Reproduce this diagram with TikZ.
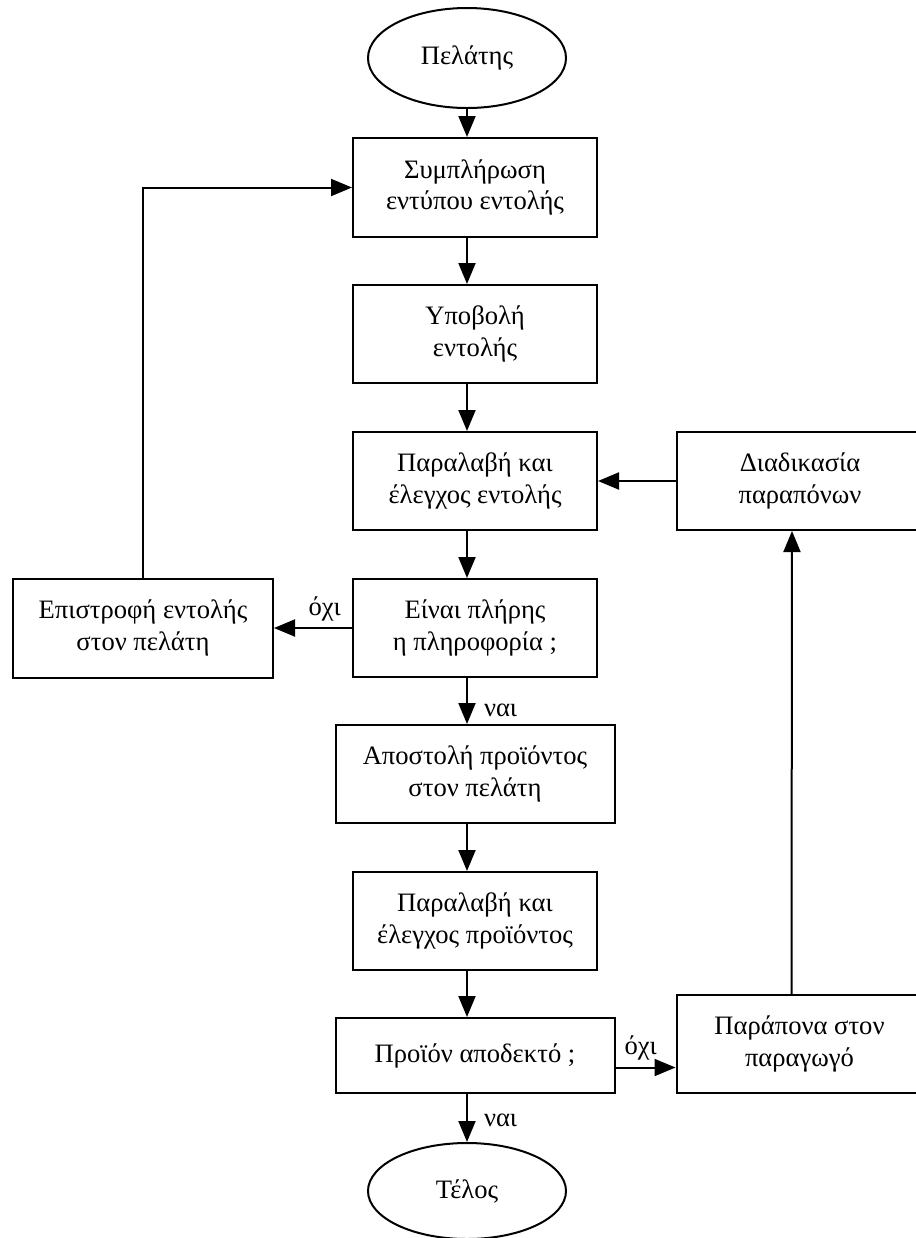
\documentclass[tikz,border=0pt]{standalone}
\usepackage{fontspec}
\setmainfont{Liberation Serif}
\usetikzlibrary{arrows.meta,positioning,shapes.geometric}

\begin{document}
\begin{tikzpicture}[
  font=\fontsize{13.3pt}{15.8pt}\selectfont,
  line width=1pt,
  pbox/.style={draw, align=center, inner sep=2pt, minimum width=122pt, minimum height=49pt},
  wbox/.style={pbox, minimum width=139.5pt},
  term/.style={draw, ellipse, inner sep=1pt, minimum width=99pt, minimum height=49pt},
  arr/.style={-{Triangle[width=8.5pt,length=10.5pt]}},
  lbl/.style={inner sep=3pt}
]
\useasboundingbox (0pt,0pt) rectangle (458pt,-619pt);
\clip (0pt,0pt) rectangle (458pt,-619pt);
\node[pbox, minimum height=49.5pt] (b1) at (237.5pt,-93.75pt) {Συμπλήρωση\\εντύπου εντολής};
\node[term, above=14pt of b1, xshift=-4pt, minimum height=50pt] (pel) {Πελάτης};
\node[pbox, below=23pt of b1] (b2) {Υποβολή\\εντολής};
\node[pbox, below=23.5pt of b2] (b3) {Παραλαβή και\\έλεγχος εντολής};
\node[pbox, below=23.5pt of b3] (b4) {Είναι πλήρης\\η πληροφορία ;};
\node[wbox, below=23pt of b4] (b5) {Αποστολή προϊόντος\\στον πελάτη};
\node[pbox, below=23.5pt of b5] (b6) {Παραλαβή και\\έλεγχος προϊόντος};
\node[wbox, below=23pt of b6, minimum height=37.5pt] (b7) {Προϊόν αποδεκτό ;};
\node[term, below=24pt of b7, xshift=-4pt, minimum height=48pt] (end) {Τέλος};
\node[pbox, left=39pt of b4, minimum width=130pt, minimum height=49.5pt] (ret) {Επιστροφή εντολής\\στον πελάτη};
\node[pbox, right=39pt of b3, minimum width=123pt] (proc) {Διαδικασία\\παραπόνων};
\node[pbox, right=30pt of b7.south east, anchor=south west, minimum width=123pt] (compl) {Παράπονα στον\\παραγωγό};
% main column
\draw[arr] (pel) -- (pel |- b1.north);
\draw[arr] ([xshift=-4pt]b1.south) -- ([xshift=-4pt]b2.north);
\draw[arr] ([xshift=-4pt]b2.south) -- ([xshift=-4pt]b3.north);
\draw[arr] ([xshift=-4pt]b3.south) -- ([xshift=-4pt]b4.north);
\draw[arr] ([xshift=-4pt]b4.south) -- node[lbl, right=5pt, pos=0.7] {ναι} ([xshift=-4pt]b5.north);
\draw[arr] ([xshift=-4pt]b5.south) -- ([xshift=-4pt]b6.north);
\draw[arr] ([xshift=-4pt]b6.south) -- ([xshift=-4pt]b7.north);
\draw[arr] (b7.south -| end.north) -- node[lbl, right=5pt, pos=0.55] {ναι} (end.north);
% loops
\draw[arr] (b4.west) -- node[lbl, above, pos=0.35] {όχι} (ret.east);
\draw[arr] (ret.north) |- (b1.west);
\draw[arr] ([yshift=-6pt]b7.east) -- node[lbl, above, pos=0.42] {όχι} ([yshift=-6pt]b7.east -| compl.west);
\draw[arr] ([xshift=-4pt]compl.north) -- ([xshift=-4pt]proc.south);
\draw[arr] (proc.west) -- (b3.east);
\end{tikzpicture}
\end{document}
